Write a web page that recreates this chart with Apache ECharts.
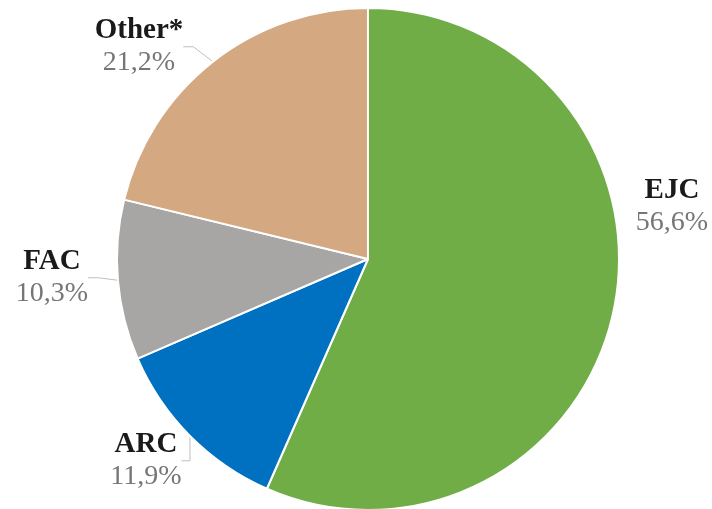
<!DOCTYPE html>
<html><head><meta charset="utf-8">
<script src="https://cdn.jsdelivr.net/npm/echarts@6/dist/echarts.min.js"></script>
<style>html,body{margin:0;padding:0;background:#fff}#c{width:712px;height:509px}</style>
</head><body><div id="c"></div>
<script>
const categories = ['EJC', 'ARC', 'FAC', 'Other*'];
const values = [56.6, 11.9, 10.3, 21.2];
const colors = ['#70AD47', '#0070C0', '#A8A5A5', '#D4A880'];
const labelPos = [[672, 207], [146, 461], [52, 278], [139, 47]];

const chart = echarts.init(document.getElementById('c'), null, {renderer: 'canvas'});
chart.setOption({
  animation: false,
  series: [{
    type: 'pie',
    center: [368, 259],
    radius: 251,
    startAngle: 90,
    clockwise: true,
    data: categories.map((n, i) => ({
      name: n, value: values[i],
      itemStyle: {color: colors[i]},
      labelLine: {show: i !== 0}
    })),
    itemStyle: {borderColor: '#fff', borderWidth: 2},
    label: {
      show: true,
      position: 'outside',
      overflow: 'none',
      edgeDistance: 0,
      formatter: p => '{b|' + p.name + '}\n{c|' + p.value.toFixed(1).replace('.', ',') + '%}',
      rich: {
        b: {fontFamily: 'Liberation Serif', fontWeight: 'bold', fontSize: 29, color: '#1a1a1a', lineHeight: 32, align: 'center'},
        c: {fontFamily: 'Liberation Serif', fontSize: 28, color: '#767676', lineHeight: 32, align: 'center'}
      }
    },
    labelLine: {show: true, length: 10, length2: 10, lineStyle: {color: '#bfbfbf', width: 1}},
    labelLayout: p => ({x: labelPos[p.dataIndex][0], y: labelPos[p.dataIndex][1], align: 'center', verticalAlign: 'middle'})
  }]
});
</script></body></html>
